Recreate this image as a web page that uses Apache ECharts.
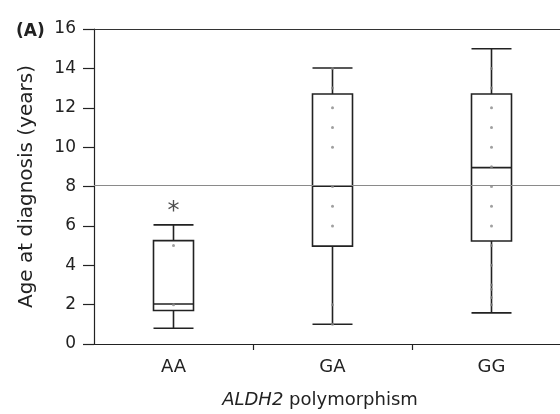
<!DOCTYPE html>
<html>
<head>
<meta charset="utf-8">
<script src="https://cdn.jsdelivr.net/npm/echarts@6/dist/echarts.min.js"></script>
<style>html,body{margin:0;padding:0;background:#fff;overflow:hidden;width:560px;height:414px;}#chart{width:571px;height:414px;}</style>
</head>
<body>
<div id="chart"></div>
<script>
// ---- data ----
var categories = ['AA', 'GA', 'GG'];
// [lower whisker, Q1, median, Q3, upper whisker]
var boxAA = [0.8, 1.7, 2.03, 5.25, 6.05];
var boxGA = [1.0, 4.97, 8.02, 12.7, 14.02];
var boxGG = [1.58, 5.23, 8.96, 12.7, 15.0];
// individual observations (small grey dots)
var pointsAA = [2, 5];
var pointsGA = [1, 2, 6, 7, 8, 10, 11, 12, 13, 14];
var pointsGG = [2.0, 2.36, 2.78, 3, 4, 5, 6, 7, 8, 9, 10, 11, 12, 13, 14];
var refLineValue = 8.05;
var yTicks = [0, 2, 4, 6, 8, 10, 12, 14, 16];
var significance = [['AA', 7.05, '*']];

var font = '"DejaVu Sans", "Liberation Sans", Arial, sans-serif';
var dots = [];
[pointsAA, pointsGA, pointsGG].forEach(function (arr, i) {
  arr.forEach(function (v) { dots.push([categories[i], v]); });
});

var chart = echarts.init(document.getElementById('chart'), null, {renderer: 'canvas'});
chart.setOption({
  animation: false,
  backgroundColor: '#fff',
  title: {
    text: '(A)', left: 11, top: 18,
    textStyle: {fontFamily: font, fontSize: 17, fontWeight: 'bold', color: '#222'}
  },
  grid: {left: 94, right: 0, top: 29, bottom: 67},
  xAxis: [{
    type: 'category',
    data: categories,
    boundaryGap: true,
    axisLine: {show: true, lineStyle: {color: '#222', width: 1.2}},
    axisTick: {show: true, length: 6, inside: false, lineStyle: {color: '#222', width: 1.2},
      interval: function (idx) { return idx !== 0; }},
    axisLabel: {fontFamily: font, fontSize: 18, color: '#222', margin: 14},
    name: '{i|ALDH2} polymorphism',
    nameLocation: 'middle',
    nameGap: 47,
    nameTextStyle: {fontFamily: font, fontSize: 18, color: '#222', padding: [0, 25, 0, 0],
      rich: {i: {fontFamily: font, fontSize: 18, fontStyle: 'italic', color: '#222'}}},
    splitLine: {show: false}
  }, {
    type: 'category',
    position: 'top',
    data: categories,
    axisLine: {show: true, lineStyle: {color: '#333', width: 1.2}},
    axisTick: {show: false},
    axisLabel: {show: false},
    splitLine: {show: false}
  }],
  yAxis: {
    type: 'value',
    min: 0, max: 16, interval: 2,
    axisLine: {show: true, lineStyle: {color: '#222', width: 1.2}},
    axisTick: {show: true, length: 11, lineStyle: {color: '#222', width: 1.2}},
    axisLabel: {fontFamily: font, fontSize: 17, color: '#222', margin: 18,
      customValues: yTicks},
    splitLine: {show: false},
    name: 'Age at diagnosis (years)',
    nameLocation: 'middle',
    nameGap: 57,
    nameTextStyle: {fontFamily: font, fontSize: 20, color: '#222'}
  },
  series: [{
    type: 'boxplot',
    data: [boxAA, boxGA, boxGG],
    boxWidth: [40, 40],
    itemStyle: {color: '#fff', borderColor: '#222', borderWidth: 1.6},
    markLine: {
      silent: true,
      symbol: ['none', 'none'],
      label: {show: false},
      lineStyle: {color: '#8a8a8a', width: 1.2, type: 'solid'},
      data: [{yAxis: refLineValue}]
    },
    z: 3
  }, {
    type: 'scatter',
    data: dots,
    symbol: 'circle',
    symbolSize: 3,
    itemStyle: {color: '#888'},
    z: 4
  }, {
    type: 'scatter',
    data: significance.map(function (s) { return [s[0], s[1], s[2]]; }),
    symbolSize: 0,
    label: {show: true, position: 'inside', offset: [0, 7], formatter: function (p) { return p.value[2]; },
      fontFamily: font, fontSize: 24, color: '#222'},
    z: 5
  }]
});
</script>
</body>
</html>
